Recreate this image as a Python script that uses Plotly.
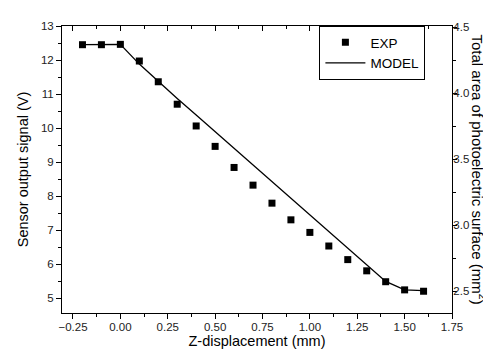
import plotly.graph_objects as go

# Data
z_exp = [-0.2, -0.1, 0.0, 0.1, 0.2, 0.3, 0.4, 0.5, 0.6, 0.7, 0.8, 0.9, 1.0, 1.1, 1.2, 1.3, 1.4, 1.5, 1.6]
v_exp = [12.45, 12.45, 12.46, 11.97, 11.36, 10.70, 10.06, 9.46, 8.84, 8.32, 7.79, 7.30, 6.93, 6.53, 6.13, 5.80, 5.48, 5.24, 5.20]

z_model = [-0.2, -0.1, 0.0, 0.1, 0.2, 0.3, 0.4, 0.5, 0.6, 0.7, 0.8, 0.9, 1.0, 1.1, 1.2, 1.3, 1.4, 1.5, 1.6]
v_model = [12.45, 12.45, 12.46, 11.88, 11.36, 10.87, 10.38, 9.89, 9.40, 8.91, 8.42, 7.93, 7.44, 6.96, 6.47, 5.98, 5.49, 5.24, 5.22]

x_ticks = [-0.25, 0.0, 0.25, 0.5, 0.75, 1.0, 1.25, 1.5, 1.75]
y_ticks = [5, 6, 7, 8, 9, 10, 11, 12, 13]
y2_ticks = [2.5, 3.0, 3.5, 4.0, 4.5]

FONT = "Liberation Sans, Arial, sans-serif"
XR = [-0.308, 1.75]
YR = [4.56, 13.0]
Y2R = [2.336, 4.51]

fig = go.Figure()
fig.add_trace(go.Scatter(
    x=z_exp, y=v_exp, mode="markers", name="EXP",
    marker=dict(symbol="square", size=7, color="black"),
))
fig.add_trace(go.Scatter(
    x=z_model, y=v_model, mode="lines", name="MODEL",
    line=dict(color="black", width=1.3),
))
# empty trace to activate the right / top axes
fig.add_trace(go.Scatter(x=[None], y=[None], xaxis="x2", yaxis="y2",
                         showlegend=False, hoverinfo="skip"))

axis_common = dict(showgrid=False, zeroline=False, showline=True,
                   linecolor="black", linewidth=1, tickcolor="black",
                   tickfont=dict(family=FONT, size=11.5, color="#222"))

fig.update_layout(
    width=491, height=357,
    margin=dict(l=54, r=47, t=13, b=52),
    paper_bgcolor="white", plot_bgcolor="white",
    font=dict(family=FONT, color="black"),
    xaxis=dict(range=XR, tickvals=x_ticks, tickformat=".2f", ticks="outside",
               ticklen=5, ticklabelstandoff=-2,
               minor=dict(dtick=0.125, tick0=0, ticks="outside", ticklen=3, tickcolor="black"),
               title=dict(text="Z-displacement (mm)", font=dict(family=FONT, size=14.5), standoff=3),
               **axis_common),
    xaxis2=dict(range=XR, overlaying="x", side="top", anchor="y2", tickvals=x_ticks,
                ticks="inside", ticklen=5, showticklabels=False,
                minor=dict(dtick=0.125, tick0=0, ticks="inside", ticklen=3, tickcolor="black"),
                **axis_common),
    yaxis=dict(range=YR, tickvals=y_ticks, ticks="outside", ticklen=5,
               minor=dict(dtick=0.5, tick0=0, ticks="outside", ticklen=3, tickcolor="black"),
               title=dict(text="Sensor output signal (V)", font=dict(family=FONT, size=14.5), standoff=8),
               **axis_common),
    yaxis2=dict(range=Y2R, overlaying="y", side="right", anchor="x", tickvals=y2_ticks,
                tickformat=".1f", ticks="outside", ticklen=4, ticklabelstandoff=-6,
                minor=dict(dtick=0.25, tick0=0, ticks="outside", ticklen=3, tickcolor="black"),
                **axis_common),
    legend=dict(x=0.66, y=1.0, xanchor="left", yanchor="top",
                bordercolor="black", borderwidth=1, bgcolor="white",
                font=dict(family=FONT, size=13.5), tracegroupgap=0,
                itemwidth=40),
    showlegend=True,
)

fig.add_annotation(text="Total area of photoelectric surface (mm<sup>2</sup>)",
                   xref="paper", yref="paper", x=1.0, y=0.5, xshift=27,
                   xanchor="center", yanchor="middle",
                   textangle=90, showarrow=False,
                   font=dict(family=FONT, size=15, color="black"))

fig.write_html("out.html")
